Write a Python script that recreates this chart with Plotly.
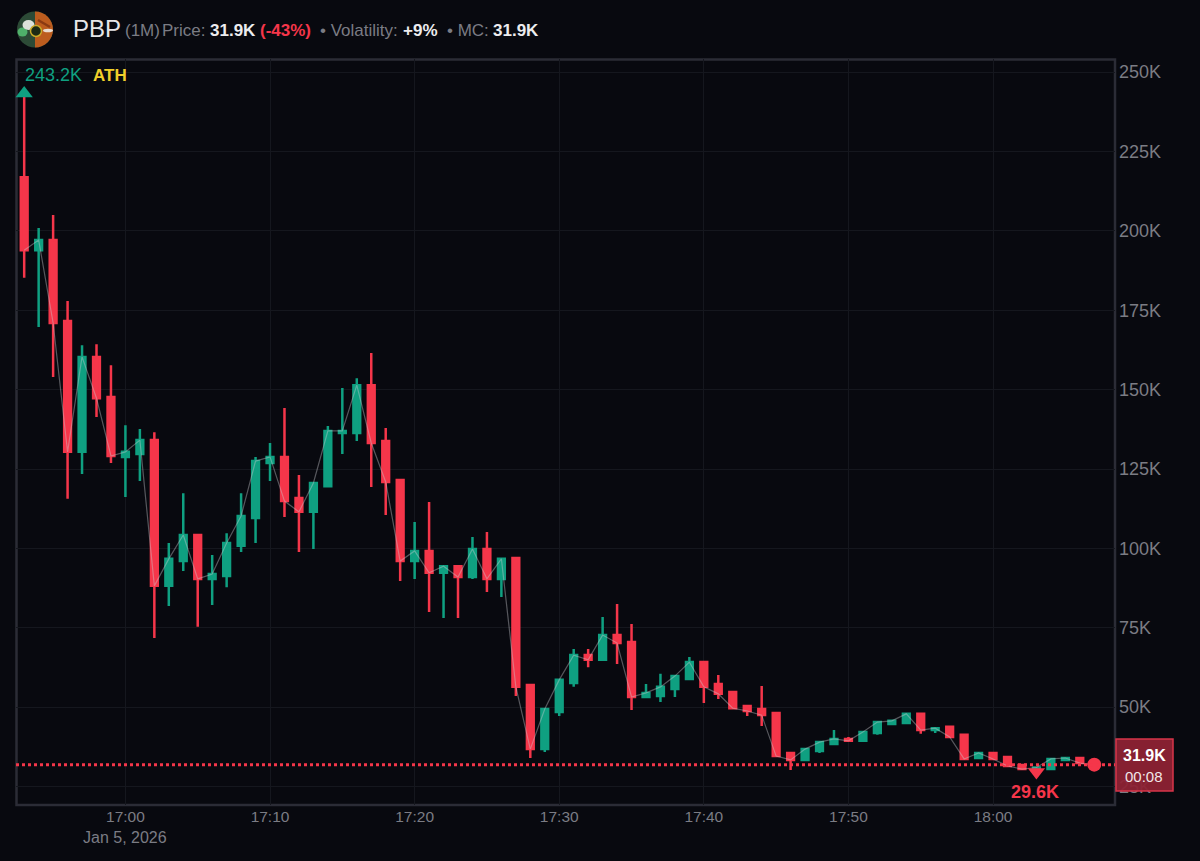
import pandas as pd
import plotly.graph_objects as go

# 1 minute candles, values in thousands
times = pd.date_range("2026-01-05 16:53", periods=74, freq="min")
opens = [216.9, 193.9, 197.1, 171.6, 130.4, 160.3, 147.7, 128.8, 129.7, 134.1,
         88.2, 96.0, 104.2, 90.4, 91.3, 100.8, 109.6, 126.9, 128.8, 115.9,
         111.5, 119.6, 136.3, 136.3, 151.4, 133.8, 121.5, 96.0, 99.2, 92.3,
         94.4, 91.0, 99.8, 90.4, 97.0, 57.0, 36.8, 48.5, 57.6, 66.4,
         64.9, 72.7, 70.5, 53.2, 53.5, 55.7, 58.9, 64.2, 57.3, 54.8,
         50.4, 49.4, 48.2, 35.6, 33.4, 36.2, 38.4, 40.0, 39.4, 41.9,
         44.7, 45.0, 47.9, 42.8, 43.8, 41.3, 34.0, 35.6, 34.3, 31.8,
         30.5, 30.5, 33.4, 34.0]
highs = [243.2, 200.9, 205.0, 177.9, 164.0, 164.3, 157.7, 138.8, 137.6, 136.6,
         101.7, 117.4, 104.2, 97.9, 104.8, 117.4, 128.8, 133.2, 144.2, 123.1,
         120.9, 138.5, 150.5, 153.6, 161.5, 137.9, 121.5, 108.3, 114.6, 94.4,
         94.4, 103.6, 105.2, 96.7, 97.0, 57.3, 49.7, 58.6, 68.3, 68.3,
         78.4, 82.5, 76.2, 57.3, 60.5, 60.1, 65.8, 64.2, 60.1, 54.8,
         50.4, 56.7, 48.5, 35.6, 36.8, 39.0, 42.8, 40.6, 42.2, 45.3,
         45.7, 47.9, 48.2, 43.4, 43.8, 41.3, 35.6, 35.6, 34.3, 31.8,
         31.0, 33.7, 34.0, 34.0]
lows = [185.2, 169.7, 154.0, 115.6, 123.4, 141.4, 126.9, 116.2, 121.2, 71.8,
        81.9, 92.9, 75.3, 82.2, 87.8, 98.9, 101.7, 121.2, 109.9, 98.9,
        99.8, 119.6, 129.7, 133.8, 119.3, 110.5, 89.7, 90.4, 80.0, 78.1,
        78.1, 90.4, 86.3, 84.7, 53.5, 34.0, 35.9, 47.2, 56.4, 62.6,
        64.9, 63.6, 49.1, 53.2, 51.6, 53.2, 58.6, 51.3, 52.6, 49.7,
        47.2, 44.1, 34.3, 30.2, 33.4, 35.6, 38.4, 39.4, 39.4, 41.3,
        44.7, 45.0, 41.6, 41.9, 40.6, 33.4, 34.0, 33.7, 31.5, 30.5,
        29.6, 30.5, 33.4, 32.4]
closes = [193.9, 197.1, 171.0, 130.4, 160.3, 147.3, 129.1, 130.4, 134.1, 88.2,
          96.7, 104.2, 90.4, 91.9, 101.7, 110.2, 127.5, 128.8, 114.9, 111.5,
          120.6, 137.0, 137.0, 151.4, 133.2, 120.9, 96.0, 99.2, 92.3, 94.4,
          91.0, 99.8, 90.4, 96.7, 56.4, 36.8, 49.4, 58.6, 66.4, 64.9,
          72.7, 70.2, 53.2, 54.5, 56.4, 59.8, 64.2, 56.4, 54.2, 49.7,
          48.8, 47.5, 34.6, 33.4, 36.8, 39.0, 40.0, 39.4, 42.2, 45.3,
          45.7, 47.9, 42.8, 43.4, 40.6, 33.7, 35.6, 33.7, 31.5, 30.5,
          31.0, 33.7, 34.0, 32.4]

ath_time = "2026-01-05 16:53"
ath_value = 243.2
low_time = "2026-01-05 18:03"
low_value = 29.6
last_time = "2026-01-05 18:07"
last_price = 31.9

y_ticks = [25, 50, 75, 100, 125, 150, 175, 200, 225, 250]
y_labels = ["25K", "50K", "75K", "100K", "125K", "150K", "175K", "200K", "225K", "250K"]

RED = "#F5364A"
GREEN = "#0FA081"
BG = "#08090F"
GREY = "#7B7C84"
FONT = "Liberation Sans"

# plot box in pixels
W, H = 1200, 861
L, R, T, B = 16, 1115, 59, 805


def px(x):
    return (x - L) / (R - L)


def py(y):
    return (B - y) / (B - T)


fig = go.Figure()

fig.add_trace(go.Candlestick(
    x=times, open=opens, high=highs, low=lows, close=closes,
    increasing=dict(line=dict(color=GREEN, width=2.5), fillcolor=GREEN),
    decreasing=dict(line=dict(color=RED, width=2.5), fillcolor=RED),
    hoverinfo="skip", showlegend=False,
))

# thin line through the closes
fig.add_trace(go.Scatter(
    x=list(times) + [pd.Timestamp(last_time)], y=closes + [last_price],
    mode="lines", line=dict(color="rgba(205,205,210,0.4)", width=1.2),
    hoverinfo="skip", showlegend=False,
))

fig.add_trace(go.Scatter(
    x=[ath_time], y=[ath_value], mode="markers",
    marker=dict(symbol="triangle-up", size=15, color=GREEN),
    cliponaxis=False, showlegend=False,
))
fig.add_trace(go.Scatter(
    x=[low_time], y=[low_value], mode="markers",
    marker=dict(symbol="triangle-down", size=15, color=RED),
    cliponaxis=False, showlegend=False,
))
fig.add_trace(go.Scatter(
    x=[last_time], y=[last_price], mode="markers",
    marker=dict(symbol="circle", size=14, color=RED),
    showlegend=False,
))


def text(x, y, s, size=17, color=GREY, anchor="left"):
    fig.add_annotation(
        xref="paper", yref="paper", x=px(x), y=py(y), text=s, showarrow=False,
        xanchor=anchor, yanchor="middle", borderpad=0, borderwidth=0,
        font=dict(family=FONT, size=size, color=color),
    )


def oval(cx, cy, rx, ry, fill, line=None):
    return dict(type="circle", xref="paper", yref="paper",
                x0=px(cx - rx), x1=px(cx + rx), y0=py(cy + ry), y1=py(cy - ry),
                fillcolor=fill, line=line or dict(width=0))


# header
WHITE = "#ECECEE"
text(73, 29, "PBP", 24, "#E6E6E8")
text(125, 31, "(1M)", 17)
text(162, 31, "Price:", 17)
text(210, 31, "<b>31.9K</b>", 17, WHITE)
text(260, 31, "<b>(-43%)</b>", 17, RED)
text(320, 31, "• Volatility:", 17)
text(403, 31, "<b>+9%</b>", 17, WHITE)
text(447, 31, "• MC:", 17)
text(493, 31, "<b>31.9K</b>", 17, WHITE)

# chart labels
text(25, 75, "243.2K", 18, GREEN)
text(93, 75, "<b>ATH</b>", 17, "#F0CF2A")
text(1035, 792, "<b>29.6K</b>", 18, RED, "center")
text(125, 838, "Jan 5, 2026", 16, GREY, "center")

# token logo
cx, cy, r = 35, 29.5, 18
k = r * 0.5523
right_half = (
    f"M {px(cx)} {py(cy - r)} "
    f"C {px(cx + k)} {py(cy - r)} {px(cx + r)} {py(cy - k)} {px(cx + r)} {py(cy)} "
    f"C {px(cx + r)} {py(cy + k)} {px(cx + k)} {py(cy + r)} {px(cx)} {py(cy + r)} Z"
)
shapes = [
    oval(cx, cy, r, r, "#2C4A36"),
    dict(type="path", xref="paper", yref="paper", path=right_half,
         fillcolor="#BC5C1E", line_width=0),
    dict(type="line", xref="paper", yref="paper",
         x0=px(38), x1=px(50), y0=py(20), y1=py(27),
         line=dict(color="#8A3A12", width=2.5)),
    oval(22.5, 32, 5, 4.5, "#4FB06A"),
    oval(28.5, 25, 6, 5, "#DDE2DA"),
    oval(48, 30.5, 5, 1.8, "#E8DCD0"),
    oval(36, 31, 5.5, 5.5, "#1D2A14", dict(color="#C9A928", width=1.5)),
    # chart frame
    dict(type="rect", xref="paper", yref="paper", x0=px(16.5), x1=px(1115), y0=py(805), y1=py(59.5),
         fillcolor="rgba(0,0,0,0)", line=dict(color="#2B2C36", width=2.5), layer="below"),
    # last price line
    dict(type="line", xref="paper", yref="y", x0=0, x1=1, y0=last_price, y1=last_price,
         line=dict(color=RED, width=3, dash="3px,3px"), layer="above"),
    # price box on the axis
    dict(type="rect", xref="paper", yref="paper",
         x0=px(1116), x1=px(1173), y0=py(791), y1=py(739),
         fillcolor="rgba(142,34,52,0.94)", line=dict(color="#D8344A", width=1.5), layer="above"),
]
fig.update_layout(shapes=shapes)
text(1144, 755, "<b>31.9K</b>", 16, "#FFFFFF", "center")
text(1144, 776, "00:08", 15, "#F2E6E8", "center")

fig.update_layout(
    width=W, height=H,
    margin=dict(l=L, r=W - R, t=T, b=H - B, autoexpand=False),
    paper_bgcolor=BG, plot_bgcolor=BG,
    font=dict(family=FONT, color=GREY),
    boxgap=0.33,
    showlegend=False,
    xaxis=dict(
        type="date", range=["2026-01-05 16:52:26", "2026-01-05 18:08:26"],
        rangeslider=dict(visible=False),
        dtick=600000, tick0="2026-01-05 17:00", tickformat="%H:%M",
        tickfont=dict(size=15.5, color=GREY), ticklabelstandoff=0,
        showgrid=True, gridcolor="#15171E", gridwidth=1, zeroline=False,
        showline=False, ticks="",
    ),
    yaxis=dict(
        side="right", range=[19.2, 254.1],
        tickmode="array", tickvals=y_ticks, ticktext=y_labels,
        tickfont=dict(size=18, color=GREY), ticklabelstandoff=3,
        showgrid=True, gridcolor="#15171E", gridwidth=1, zeroline=False,
        showline=False, ticks="",
    ),
)

# page margin off so the figure sits at the window corner
fig.write_html(
    "out.html",
    config={"displayModeBar": False},
    post_script="document.body.style.margin='0';document.body.style.background='#08090F';",
)
